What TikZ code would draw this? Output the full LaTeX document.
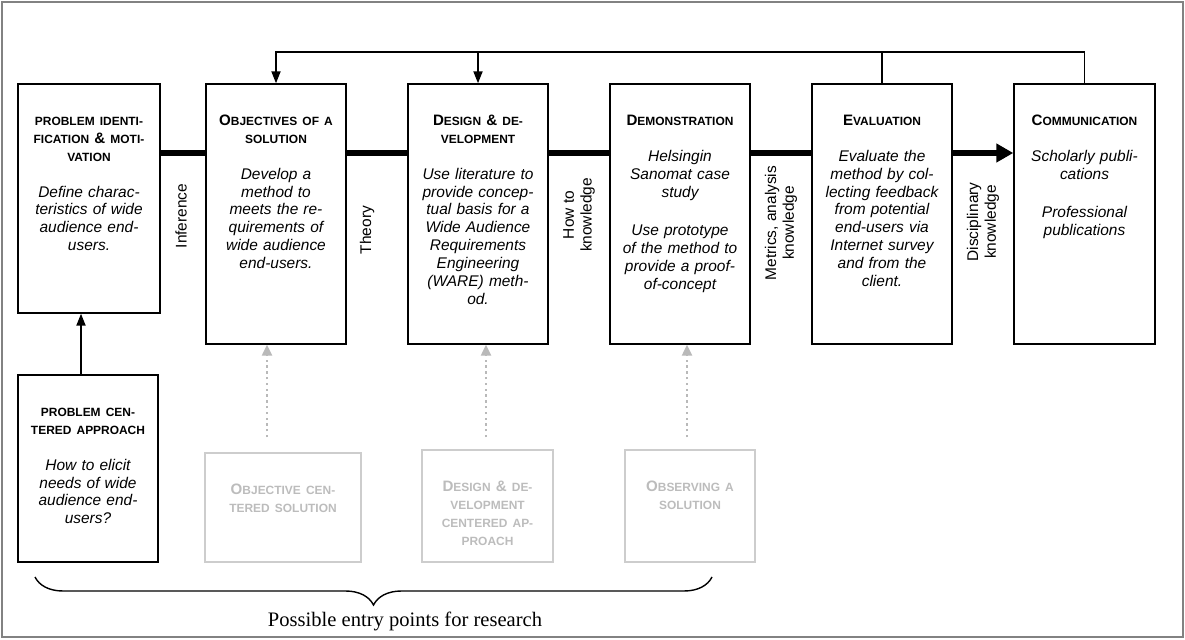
\documentclass[tikz,border=0pt]{standalone}
\usepackage{fontspec}
\setmainfont{Liberation Sans}
\newfontfamily\notefont{Liberation Serif}
\usepackage{tikz}
\usetikzlibrary{arrows.meta,positioning,decorations.pathreplacing}
\definecolor{ghostline}{RGB}{205,205,205}
\definecolor{ghosttext}{RGB}{188,188,188}
\definecolor{ghostarw}{RGB}{185,185,185}
\definecolor{framegray}{RGB}{130,130,130}
\newcommand{\capsz}{\fontsize{6.8}{10.2}\selectfont\bfseries}
\newcommand{\initc}[1]{{\fontsize{8.6}{10.2}\selectfont #1}}

\begin{document}
\begin{tikzpicture}[
  >=Triangle,
  every node/.style={align=center},
  base/.style     = {draw, line width=0.8pt, minimum width=2.80cm, inner sep=0pt},
  stepbox/.style  = {base, fill=white, minimum height=5.20cm},
  entrybox/.style = {base, minimum height=3.74cm},
  ghostbox/.style = {base, draw=ghostline, minimum height=2.24cm},
  txt/.style      = {inner sep=0pt, text width=2.6cm, align=center,
                     font=\fontsize{8.8}{10.2}\selectfont},
  ghosttxt/.style = {txt, text=ghosttext},
  lbl/.style      = {rotate=90, inner sep=0pt, font=\fontsize{8.8}{10.2}\selectfont},
  flow/.style     = {line width=3.2pt},
  fb/.style       = {line width=1.1pt},
  ghostarrow/.style = {ghostarw, line width=1.3pt, dotted,
                       -{Triangle[length=0.22cm, width=0.20cm]}},
  entrybrace/.style = {decorate, decoration={brace, mirror, amplitude=0.56cm},
                       line width=0.8pt}
]
\useasboundingbox (0,0) rectangle (23.70,12.78);
\draw[framegray, line width=0.6pt] (0.04,0.04) rectangle (23.66,12.74);

% process steps
\node[stepbox, minimum width=2.84cm, minimum height=4.58cm] (pid) at (1.78, 8.81) {};
\node[stepbox] (obj) at ( 5.52, 8.50) {};
\node[stepbox] (des) at ( 9.56, 8.50) {};
\node[stepbox] (dem) at (13.60, 8.50) {};
\node[stepbox] (eva) at (17.64, 8.50) {};
\node[stepbox, minimum width=2.82cm] (com) at (21.69, 8.50) {};

\node[txt, below=0.59cm of pid.north] (pidT)
  {\strut{\capsz PROBLEM IDENTI-\\FICATION \initc{\&} MOTI-\\VATION}\\[10pt]
   \itshape Define charac-\\teristics of wide\\audience end-\\users.};
\node[txt, below=0.59cm of obj.north] (objT)
  {\strut{\capsz\initc{O}BJECTIVES OF A\\SOLUTION}\\[10pt]
   \itshape Develop a\\method to\\meets the re-\\quirements of\\wide audience\\end-users.};
\node[txt, below=0.59cm of des.north] (desT)
  {\strut{\capsz\initc{D}ESIGN \initc{\&} DE-\\VELOPMENT}\\[10pt]
   \itshape Use literature to\\provide concep-\\tual basis for a\\Wide Audience\\Requirements\\Engineering\\(WARE) meth-\\od.};
\node[txt, below=0.59cm of dem.north] (demT)
  {\strut{\capsz\initc{D}EMONSTRATION}\\[10pt]
   \itshape Helsingin\\Sanomat case\\study\\[11.8pt]
   Use prototype\\of the method to\\provide a proof-\\of-concept};
\node[txt, below=0.59cm of eva.north] (evaT)
  {\strut{\capsz\initc{E}VALUATION}\\[10pt]
   \itshape Evaluate the\\method by col-\\lecting feedback\\from potential\\end-users via\\Internet survey\\and from the\\client.};
\node[txt, below=0.59cm of com.north] (comT)
  {\strut{\capsz\initc{C}OMMUNICATION}\\[10pt]
   \itshape Scholarly publi-\\cations\\[11.8pt]
   Professional\\publications};

% knowledge labels
\node[lbl] (infer) at ( 3.62, 8.46) {Inference};
\node[lbl] (theory) at ( 7.34, 8.18) {Theory};
\node[lbl] (howto) at (11.58, 8.48) {How to\\knowledge};
\node[lbl] (metric) at (15.62, 8.32) {Metrics, analysis\\knowledge};
\node[lbl] (discip) at (19.66, 8.34) {Disciplinary\\knowledge};

% main flow and feedback
\coordinate (flowY) at (0, 9.72);
\coordinate (fbY) at (0, 11.74);
\draw[flow] (pid.east |- flowY) -- (obj.west |- flowY);
\draw[flow] (obj.east |- flowY) -- (des.west |- flowY);
\draw[flow] (des.east |- flowY) -- (dem.west |- flowY);
\draw[flow] (dem.east |- flowY) -- (eva.west |- flowY);
\draw[flow, -{Triangle[length=0.34cm, width=0.36cm]}] (eva.east |- flowY) -- (com.west |- flowY);
\draw[fb, -{Triangle[length=0.24cm, width=0.18cm]}] (com.north) |- (obj.north |- fbY) -- (obj.north);
\draw[fb] (eva.north) -- (eva.north |- fbY);
\draw[fb, -{Triangle[length=0.24cm, width=0.18cm]}] (des.north |- fbY) -- (des.north);

% entry points
\node[entrybox] (pca) at (1.76, 3.41) {};
\node[txt, below=0.59cm of pca.north] (pcaT)
  {\strut{\capsz PROBLEM CEN-\\TERED APPROACH}\\[10pt]
   \itshape How to elicit\\needs of wide\\audience end-\\users?};
\draw[fb, -{Triangle[length=0.24cm, width=0.18cm]}] ([xshift=-0.14cm]pca.north) -- ([xshift=-0.14cm]pca.north |- pid.south);

\node[ghostbox, minimum width=3.12cm, minimum height=2.18cm] (ocs) at ( 5.66, 2.63) {};
\node[ghostbox, minimum width=2.62cm] (dcs) at ( 9.75, 2.66) {};
\node[ghostbox, minimum width=2.60cm] (obs) at (13.80, 2.66) {};
\node[ghosttxt, below=0.59cm of ocs.north] (ocsT)
  {\strut{\capsz\initc{O}BJECTIVE CEN-\\TERED SOLUTION}};
\node[ghosttxt, below=0.59cm of dcs.north] (dcsT)
  {\strut{\capsz\initc{D}ESIGN \initc{\&} DE-\\VELOPMENT\\CENTERED AP-\\PROACH}};
\node[ghosttxt, below=0.59cm of obs.north] (obsT)
  {\strut{\capsz\initc{O}BSERVING A\\SOLUTION}};
\draw[ghostarrow] ([xshift=-0.32cm, yshift=0.30cm]ocs.north) -- ([xshift=-0.32cm]ocs.north |- obj.south);
\draw[ghostarrow] ([xshift=-0.03cm, yshift=0.24cm]dcs.north) -- ([xshift=-0.03cm]dcs.north |- des.south);
\draw[ghostarrow] ([xshift=-0.06cm, yshift=0.24cm]obs.north) -- ([xshift=-0.06cm]obs.north |- dem.south);

\coordinate (braceL) at (0.70, 1.24);
\coordinate (braceR) at (14.24, 1.24);
\draw[entrybrace] (braceL) -- (braceR);
\node[font=\notefont\fontsize{11.7}{14}\selectfont] (entry) at (8.10, 0.36) {Possible entry points for research};
\end{tikzpicture}
\end{document}
